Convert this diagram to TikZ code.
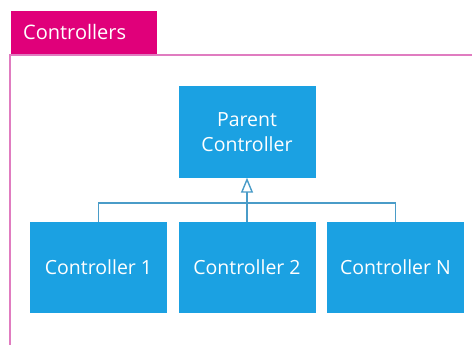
\documentclass[tikz,border=0pt]{standalone}
\usepackage{fontspec}
\setmainfont{Open Sans}
\usetikzlibrary{arrows.meta}
\definecolor{boxblue}{HTML}{1BA1E2}
\definecolor{linkblue}{HTML}{4A9CC8}
\definecolor{tabpink}{HTML}{E0007A}
\definecolor{framepink}{HTML}{E07CC0}
\tikzset{
  ctrl/.style={fill=boxblue, draw=none, minimum width=137pt, minimum height=91pt, text=white, font=\fontsize{19.5}{25}\selectfont, align=center, inner sep=0pt},
  tab/.style={fill=tabpink, draw=none, minimum width=146pt, minimum height=43pt, anchor=north west, inner sep=0pt},
  link/.style={draw=linkblue, line width=1.4pt},
  frame/.style={draw=framepink, line width=1.6pt}
}
\begin{document}
\begin{tikzpicture}[x=1pt,y=-1pt]
\useasboundingbox (0,0) rectangle (472,345);
\fill[white] (0,0) rectangle (472,345);
\node[tab] (tab) at (11,11) {};
\node[anchor=west, text=white, font=\fontsize{20}{24}\selectfont, inner sep=0pt] (tabtext) at (23,32.5) {Controllers};
\draw[frame] (472,55) -- (10,55) -- (10,345);
\node[ctrl] (parent) at (247,132) {Parent\\Controller};
\node[ctrl] (c1) at (98.5,267.5) {Controller 1};
\node[ctrl] (c2) at (247,267.5) {Controller 2};
\node[ctrl] (cn) at (395.5,267.5) {Controller N};
\coordinate (j) at (247,203);
\draw[link] (c1.north) |- (j) -| (cn.north);
\draw[link] (c2.north) -- (j);
\draw[link, -{Triangle[open, width=12pt, length=15pt]}] (j) -- (parent.south);
\end{tikzpicture}
\end{document}
